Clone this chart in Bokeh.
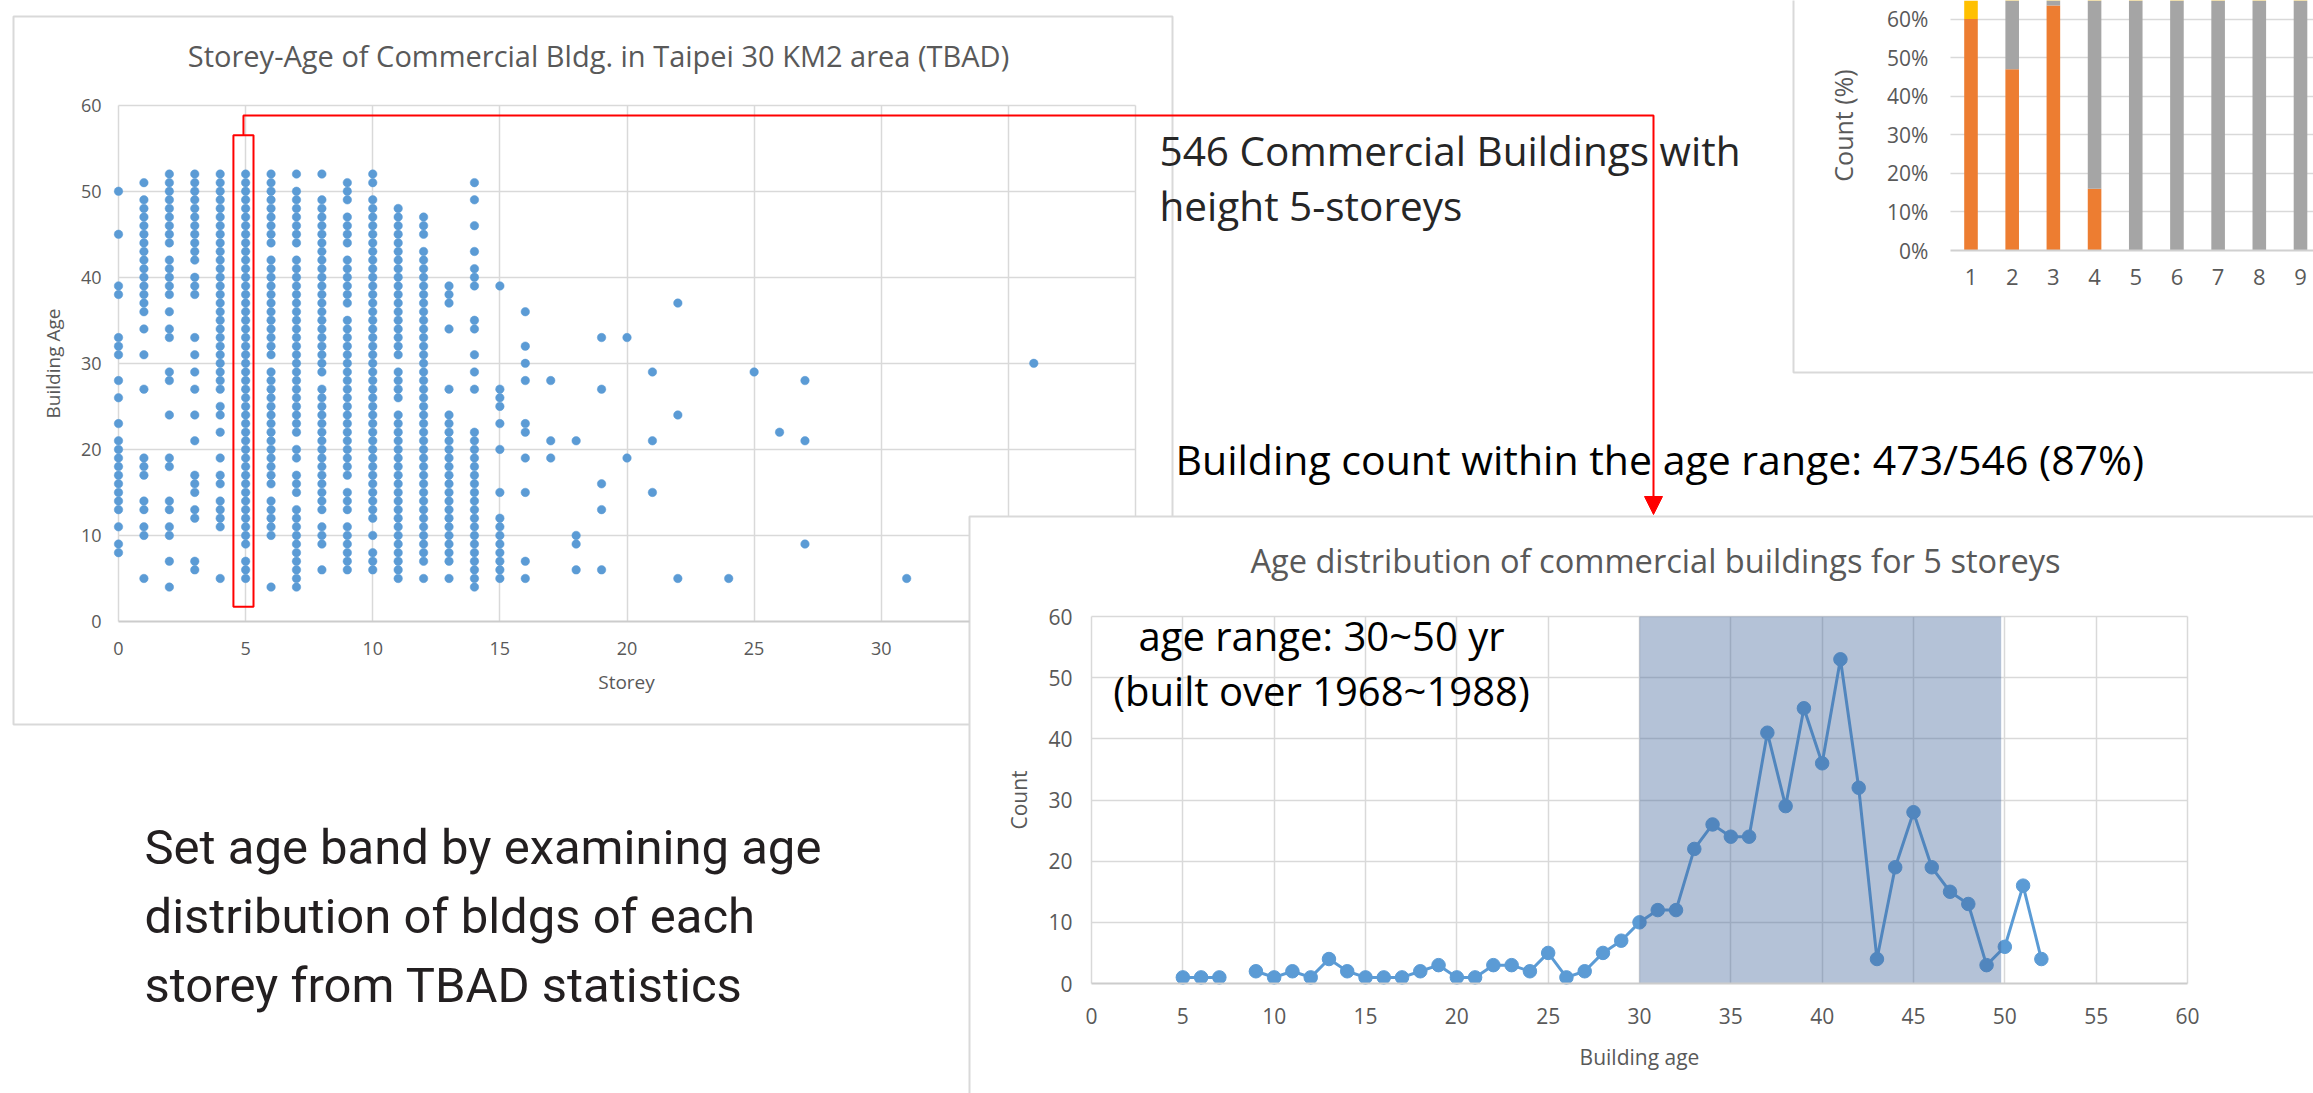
import math
from bokeh.plotting import figure
from bokeh.models import (Range1d, LinearAxis, Grid, SingleIntervalTicker, FixedTicker,
                          Label, PrintfTickFormatter, ColumnDataSource)
from bokeh.embed import file_html
from bokeh.resources import INLINE

# ---------------------------------------------------------------- data
# Storey-Age scatter (TBAD): building ages observed for each storey count
ages_by_storey = {
    0: [50, 45, 39, 38, 33, 32, 31, 28, 26, 23, 21, 20, 19, 18, 17, 16, 15, 14, 13, 11, 9, 8],
    1: [51, 49, 48, 47, 46, 45, 44, 43, 42, 41, 40, 39, 38, 37, 36, 34, 31, 27, 19, 18, 17, 14, 13, 11, 10, 5],
    2: [52, 51, 50, 49, 48, 47, 46, 45, 44, 42, 41, 40, 39, 38, 36, 34, 33, 29, 28, 24, 19, 18, 14, 13,
        11, 10, 7, 4],
    3: [52, 51, 50, 49, 48, 47, 46, 45, 44, 43, 42, 40, 39, 38, 33, 31, 29, 27, 24, 21, 17, 16, 15, 13,
        12, 7, 6],
    4: [52, 51, 50, 49, 48, 47, 46, 45, 44, 43, 42, 41, 40, 39, 38, 37, 36, 35, 34, 33, 32, 31, 30, 29,
        28, 27, 25, 24, 22, 19, 17, 16, 14, 13, 12, 11, 5],
    5: [52, 51, 50, 49, 48, 47, 46, 45, 44, 43, 42, 41, 40, 39, 38, 37, 36, 35, 34, 33, 32, 31, 30, 29,
        28, 27, 26, 25, 24, 23, 22, 21, 20, 19, 18, 17, 16, 15, 14, 13, 12, 11, 10, 9, 7, 6, 5],
    6: [52, 51, 50, 49, 48, 47, 46, 45, 44, 42, 41, 40, 39, 38, 37, 36, 35, 34, 33, 32, 31, 29, 28, 27,
        26, 25, 24, 23, 22, 21, 20, 19, 18, 17, 16, 14, 13, 12, 11, 10, 4],
    7: [52, 50, 49, 48, 47, 46, 45, 44, 42, 41, 40, 39, 38, 37, 36, 35, 34, 33, 32, 31, 30, 29, 28, 27,
        26, 25, 24, 23, 22, 20, 19, 17, 16, 15, 13, 12, 11, 10, 9, 8, 7, 6, 5, 4],
    8: [52, 49, 48, 47, 46, 45, 44, 43, 42, 41, 40, 39, 38, 37, 36, 35, 34, 33, 32, 31, 30, 29, 27, 26,
        25, 24, 23, 22, 21, 20, 19, 18, 17, 16, 15, 14, 13, 11, 10, 9, 6],
    9: [51, 50, 49, 47, 46, 45, 44, 42, 41, 40, 39, 38, 37, 35, 34, 33, 32, 31, 30, 29, 28, 27, 26, 25,
        24, 23, 22, 21, 20, 19, 18, 17, 15, 14, 13, 11, 10, 9, 8, 7, 6],
    10: [52, 51, 49, 48, 47, 46, 45, 44, 43, 42, 41, 40, 39, 38, 37, 36, 35, 34, 33, 32, 31, 30, 29, 28,
         27, 26, 25, 24, 23, 22, 21, 20, 19, 18, 17, 16, 15, 14, 13, 12, 10, 8, 7, 6],
    11: [48, 47, 46, 45, 44, 43, 42, 41, 40, 39, 38, 37, 36, 35, 34, 33, 32, 31, 29, 28, 27, 26, 24, 23,
         22, 21, 20, 19, 18, 17, 16, 15, 14, 13, 12, 11, 10, 9, 8, 7, 6, 5],
    12: [47, 46, 45, 43, 42, 41, 40, 39, 38, 37, 36, 35, 34, 33, 32, 31, 30, 29, 28, 27, 26, 25, 24, 23,
         22, 21, 20, 19, 18, 17, 16, 15, 14, 13, 12, 11, 10, 9, 8, 7, 5],
    13: [39, 38, 37, 34, 27, 24, 23, 22, 21, 20, 19, 18, 17, 16, 15, 14, 13, 12, 11, 10, 9, 8, 7, 5],
    14: [51, 49, 46, 43, 41, 40, 39, 35, 34, 31, 29, 27, 22, 21, 20, 19, 18, 17, 16, 15, 14, 13, 12, 11,
         10, 9, 8, 7, 6, 5, 4],
    15: [39, 27, 26, 25, 23, 20, 15, 12, 11, 10, 9, 8, 7, 6, 5],
    16: [36, 32, 30, 28, 23, 22, 19, 15, 7, 5],
    17: [28, 21, 19],
    18: [21, 10, 9, 6],
    19: [33, 27, 16, 13, 6],
    20: [33, 19],
    21: [29, 21, 15],
    22: [37, 24, 5],
    24: [5],
    25: [29],
    26: [22],
    27: [28, 21, 9],
    31: [5],
    36: [30],
}
highlight_storey = 5

# Age distribution of 5-storey commercial buildings
age5 = [5, 6, 7, 9, 10, 11, 12, 13, 14, 15, 16, 17, 18, 19, 20, 21, 22, 23, 24, 25, 26, 27, 28, 29,
        30, 31, 32, 33, 34, 35, 36, 37, 38, 39, 40, 41, 42, 43, 44, 45, 46, 47, 48, 49, 50, 51, 52]
count5 = [1, 1, 1, 2, 1, 2, 1, 4, 2, 1, 1, 1, 2, 3, 1, 1, 3, 3, 2, 5, 1, 2, 5, 7,
          10, 12, 12, 22, 26, 24, 24, 41, 29, 45, 36, 53, 32, 4, 19, 28, 19, 15, 13, 3, 6, 16, 4]
band_age = [30, 49.8]

# Stacked 100% bar chart (partially visible)
bar_cats = [1, 2, 3, 4, 5, 6, 7, 8, 9]
bar_orange = [60, 47, 63.5, 16, 0, 0, 0, 0, 0]
bar_gray = [0, 53, 36.5, 84, 100, 100, 100, 100, 100]
bar_yellow = [40, 0, 0, 0, 0, 0, 0, 0, 0]

# ---------------------------------------------------------------- page
W, H = 2313, 1093
OFF = 0
FONT = "Open Sans"
TXT = "#595959"
GRIDC = "#d9d9d9"
BLUE = "#5b9bd5"


def px(v):
    return v - OFF


def rng_x(v0, p0, v1, p1):
    s = (p1 - p0) / (v1 - v0)
    return Range1d(v0 + (OFF - p0) / s, v0 + (OFF + W - p0) / s)


def rng_y(v0, p0, v1, p1):
    s = (p1 - p0) / (v1 - v0)
    return Range1d(v0 + (OFF + H - p0) / s, v0 + (OFF - p0) / s)


p = figure(width=W, height=H, x_range=Range1d(0, W), y_range=Range1d(H, 0),
           x_axis_type=None, y_axis_type=None, output_backend="svg",
           toolbar_location=None, min_border=0, outline_line_color=None)
p.background_fill_color = "white"
p.border_fill_color = "white"

# scatter: storey 0..40 -> x 118..1135 ; age 0..60 -> y 621..104.7
S_X0, S_X1, S_Y0, S_Y1 = 118, 1135, 621, 104.7
L_X0, L_X1, L_Y0, L_Y1 = 1091, 2187, 983, 616
p.extra_x_ranges = {"sx": rng_x(0, S_X0, 40, S_X1),
                    "lx": rng_x(0, L_X0, 60, L_X1),
                    "bx": rng_x(1, 1970.5, 9, 2300)}
p.extra_y_ranges = {"sy": rng_y(0, S_Y0, 60, S_Y1),
                    "ly": rng_y(0, L_Y0, 60, L_Y1),
                    "by": rng_y(0, 250, 60, 18.5)}


def add_grid(dim, xr, yr, interval, bounds, cross):
    g = Grid(dimension=dim, x_range_name=xr, y_range_name=yr,
             ticker=SingleIntervalTicker(interval=interval, num_minor_ticks=0),
             bounds=bounds, cross_bounds=cross,
             grid_line_color=GRIDC, grid_line_width=1.5)
    p.add_layout(g, "center")


def add_axis(side, xr, yr, loc, bounds, ticker, fsize, standoff, line_color=None,
             label=None, lsize=None, lstandoff=0, formatter=None):
    ax = LinearAxis(x_range_name=xr, y_range_name=yr, fixed_location=loc,
                    bounds=bounds, ticker=ticker)
    if formatter is not None:
        ax.formatter = formatter
    ax.axis_line_color = line_color
    ax.axis_line_width = 2
    ax.major_tick_line_color = None
    ax.minor_tick_line_color = None
    ax.major_tick_out = 0
    ax.major_tick_in = 0
    ax.minor_tick_out = 0
    ax.minor_tick_in = 0
    ax.major_label_text_font = FONT
    ax.major_label_text_font_size = f"{fsize}px"
    ax.major_label_text_color = TXT
    ax.major_label_standoff = standoff
    if label:
        ax.axis_label = label
        ax.axis_label_text_font = FONT
        ax.axis_label_text_font_size = f"{lsize}px"
        ax.axis_label_text_color = TXT
        ax.axis_label_text_font_style = "normal"
        ax.axis_label_standoff = lstandoff
    p.add_layout(ax, side)
    return ax


def add_label(x, y, text, size, color, align="left", font=FONT, k=0.38):
    # y is the intended baseline; rendered baseline sits ~k*size below the anchor
    p.add_layout(Label(x=px(x), y=px(y - k * size), text=text, text_font=font,
                       text_font_size=f"{size}px", text_color=color,
                       text_align=align, text_baseline="alphabetic"))


def frame_line(pts, color=GRIDC, width=2):
    p.line([px(a) for a, b in pts], [px(b) for a, b in pts], line_color=color, line_width=width)


# ---------------- boxes (chart borders)
LBOX_X, LBOX_Y = 969, 516
frame_line([(LBOX_X, 724), (13, 724), (13, 16), (1172, 16), (1172, LBOX_Y)])
frame_line([(LBOX_X, 1100), (LBOX_X, LBOX_Y), (2320, LBOX_Y)])
frame_line([(1793, -5), (1793, 372), (2320, 372)])

# ---------------- scatter chart
cut_storey = (LBOX_X - S_X0) / ((S_X1 - S_X0) / 40)
cut_age = (S_Y0 - LBOX_Y) / ((S_Y0 - S_Y1) / 60)
add_grid(0, "sx", "sy", 5, (0, 30), (0, 60))
add_grid(0, "sx", "sy", 5, (35, 40), (cut_age, 60))
add_grid(1, "sx", "sy", 10, (20, 60), (0, 40))
add_grid(1, "sx", "sy", 10, (10, 10), (0, cut_storey))

add_axis("below", "sx", "sy", 0, (0, cut_storey),
         SingleIntervalTicker(interval=5, num_minor_ticks=0), 18, 20, line_color="#cccccc")
add_axis("left", "sx", "sy", 0, (0, 60),
         SingleIntervalTicker(interval=10, num_minor_ticks=0), 18, 17,
         label="Building Age", lsize=19, lstandoff=12)

sx_pts, sy_pts = [], []
for st, ages in ages_by_storey.items():
    for a in ages:
        sx_pts.append(st)
        sy_pts.append(a)
p.scatter(x=sx_pts, y=sy_pts, x_range_name="sx", y_range_name="sy",
          size=8.5, fill_color=BLUE, line_color=BLUE, line_width=0.5)

add_label(598, 66, "Storey-Age of Commercial Bldg. in Taipei 30 KM2 area (TBAD)", 29, TXT, "center")
add_label(626, 689, "Storey", 19, TXT, "center")

# highlight box around 5-storey column and connector
p.quad(left=highlight_storey - 0.48, right=highlight_storey + 0.31, bottom=1.7, top=56.5,
       x_range_name="sx", y_range_name="sy", fill_color=None, line_color="red", line_width=2)
conn_x0 = S_X0 + (highlight_storey - 0.085) * (S_X1 - S_X0) / 40
conn_y0 = S_Y0 - 56.5 * (S_Y0 - S_Y1) / 60
conn_top = 115
conn_x1 = 1653
arrow_tip = 514
frame_line([(conn_x0, conn_y0), (conn_x0, conn_top), (conn_x1, conn_top), (conn_x1, arrow_tip - 16)],
           color="red", width=2)
p.patch([px(conn_x1 - 9), px(conn_x1 + 9), px(conn_x1)],
        [px(arrow_tip - 18), px(arrow_tip - 18), px(arrow_tip)], color="red")

# ---------------- line chart
add_grid(0, "lx", "ly", 5, (0, 60), (0, 60))
add_grid(1, "lx", "ly", 10, (10, 60), (0, 60))
add_axis("below", "lx", "ly", 0, (0, 60),
         SingleIntervalTicker(interval=5, num_minor_ticks=0), 21, 24, line_color="#cccccc",
         label="Building age", lsize=21, lstandoff=16)
add_axis("left", "lx", "ly", 0, (0, 60),
         SingleIntervalTicker(interval=10, num_minor_ticks=0), 21, 19,
         label="Count", lsize=21, lstandoff=12)

lxs, lys = [], []
prev = None
for a, c in zip(age5, count5):
    if prev is not None and a - prev > 1:
        lxs.append(float("nan"))
        lys.append(float("nan"))
    lxs.append(a)
    lys.append(c)
    prev = a
p.line(lxs, lys, x_range_name="lx", y_range_name="ly", line_color=BLUE, line_width=3)
p.scatter(age5, count5, x_range_name="lx", y_range_name="ly", size=13.5,
          fill_color=BLUE, line_color=BLUE)
p.quad(left=band_age[0], right=band_age[1], bottom=0, top=60, x_range_name="lx", y_range_name="ly",
       fill_color="#44679b", fill_alpha=0.4, line_color=None)

add_label(1655, 572, "Age distribution of commercial buildings for 5 storeys", 32.6, TXT, "center")
add_label(1321, 650, "age range: 30~50 yr", 40, "black", "center")
add_label(1321, 705, "(built over 1968~1988)", 40, "black", "center")

# ---------------- stacked bar chart (top right, partially visible)
add_grid(1, "bx", "by", 10, (10, 100), (0.5, 12))
add_axis("below", "bx", "by", 0, (0.5, 12), FixedTicker(ticks=bar_cats), 22, 18,
         line_color="#d0d0d0")
add_axis("left", "bx", "by", 0.5, (0, 100),
         SingleIntervalTicker(interval=10, num_minor_ticks=0), 21, 22,
         label="Count (%)", lsize=25, lstandoff=24, formatter=PrintfTickFormatter(format="%d%%"))
bsrc = ColumnDataSource(dict(cat=bar_cats, orange=bar_orange, gray=bar_gray, yellow=bar_yellow))
p.vbar_stack(["orange", "gray", "yellow"], x="cat", width=0.33, source=bsrc,
             color=["#ed7d31", "#a5a5a5", "#ffc000"], line_color=None,
             x_range_name="bx", y_range_name="by")

# ---------------- annotation texts
add_label(1159, 165, "546 Commercial Buildings with", 40.5, "#262626")
add_label(1159, 220, "height 5-storeys", 40.5, "#262626")
add_label(1175, 474, "Building count within the age range: 473/546 (87%)", 41, "black")
SIDE_FONT = "Roboto"
add_label(144, 864, "Set age band by examining age", 49, "#231f20", font=SIDE_FONT, k=0.34)
add_label(144, 933, "distribution of bldgs of each", 49, "#231f20", font=SIDE_FONT, k=0.34)
add_label(144, 1002, "storey from TBAD statistics", 49, "#231f20", font=SIDE_FONT, k=0.34)

open("out.html", "w").write(file_html(p, INLINE))
